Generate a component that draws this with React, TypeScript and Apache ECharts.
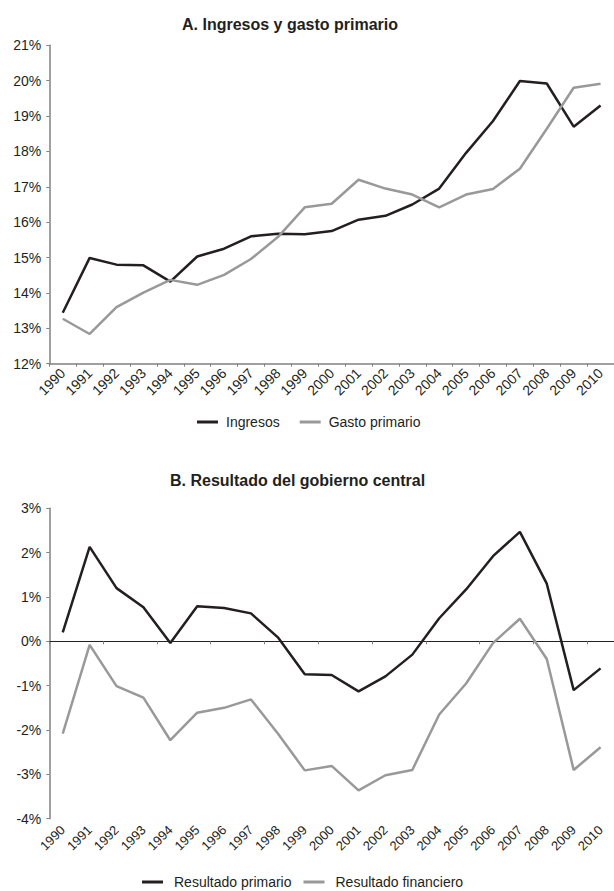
import React, { useEffect, useRef } from "react";
import * as echarts from "echarts";

const years = ["1990","1991","1992","1993","1994","1995","1996","1997","1998","1999","2000","2001","2002","2003","2004","2005","2006","2007","2008","2009","2010"];

const ingresos = [13.44, 14.99, 14.8, 14.78, 14.32, 15.03, 15.25, 15.6, 15.67, 15.66, 15.75, 16.07, 16.18, 16.5, 16.95, 17.96, 18.86, 19.99, 19.92, 18.7, 19.3];
const gastoPrimario = [13.27, 12.84, 13.6, 14.01, 14.37, 14.23, 14.51, 14.96, 15.58, 16.42, 16.52, 17.2, 16.95, 16.78, 16.42, 16.78, 16.94, 17.51, 18.64, 19.8, 19.91];

const resultadoPrimario = [0.2, 2.13, 1.2, 0.77, -0.04, 0.79, 0.75, 0.63, 0.09, -0.74, -0.76, -1.13, -0.79, -0.3, 0.52, 1.17, 1.92, 2.47, 1.3, -1.1, -0.61];
const resultadoFinanciero = [-2.08, -0.08, -1.01, -1.27, -2.23, -1.61, -1.5, -1.31, -2.08, -2.91, -2.81, -3.36, -3.02, -2.9, -1.65, -0.95, -0.04, 0.51, -0.4, -2.9, -2.39];

const titleA = "A. Ingresos y gasto primario";
const titleB = "B. Resultado del gobierno central";

const BLACK = "#231f20";
const GRAY = "#999999";
const AXIS = "#808080";
const TEXT = "#231f20";
const FONT = "Arial";

export default function App() {
  const ref = useRef<HTMLDivElement>(null);
  useEffect(() => {
    if (!ref.current) return;
    const chart = echarts.init(ref.current, undefined, { renderer: "svg" });
    const yAxisCommon = (min: number, max: number, gridIndex: number) => ({
      type: "value",
      gridIndex,
      min,
      max,
      interval: 1,
      splitLine: { show: false },
      axisLine: { show: true, lineStyle: { color: AXIS, width: 1.5 } },
      axisTick: { show: true, length: 3, lineStyle: { color: AXIS } },
      axisLabel: { formatter: "{value}%", fontSize: 14, color: TEXT, fontFamily: FONT, margin: 8 },
    });
    chart.setOption({
      animation: false,
      textStyle: { fontFamily: FONT },
      title: [
        { text: titleA, left: 177, top: 11, textStyle: { fontSize: 16, fontWeight: "bold", color: TEXT, fontFamily: FONT } },
        { text: titleB, left: 165, top: 467, textStyle: { fontSize: 16, fontWeight: "bold", color: TEXT, fontFamily: FONT } },
      ],
      legend: [
        {
          data: ["Ingresos", "Gasto primario"],
          left: 192,
          top: 410,
          icon: "rect",
          itemWidth: 21,
          itemHeight: 3,
          itemGap: 20,
          textStyle: { fontSize: 14, color: TEXT, fontFamily: FONT, padding: [0, 0, 0, 3] },
        },
        {
          data: ["Resultado primario", "Resultado financiero"],
          left: 137,
          top: 870,
          icon: "rect",
          itemWidth: 21,
          itemHeight: 3,
          itemGap: 12,
          textStyle: { fontSize: 14, color: TEXT, fontFamily: FONT, padding: [0, 0, 0, 6] },
        },
      ],
      grid: [
        { left: 49.3, top: 45.3, width: 566.2, height: 318.4, containLabel: false },
        { left: 49.3, top: 508.3, width: 566.2, height: 310.4, containLabel: false },
      ],
      xAxis: [
        {
          type: "category",
          gridIndex: 0,
          data: years,
          boundaryGap: true,
          axisLine: { show: true, lineStyle: { color: AXIS, width: 1.5 } },
          axisTick: { show: true, length: 3, lineStyle: { color: AXIS } },
          axisLabel: { rotate: 45, fontSize: 14, color: TEXT, fontFamily: FONT, margin: 7, interval: 0 },
        },
        {
          type: "category",
          gridIndex: 1,
          data: years,
          position: "bottom",
          boundaryGap: true,
          axisLine: { show: false, onZero: false },
          axisTick: { show: false },
          axisLabel: { rotate: 45, fontSize: 13, color: TEXT, fontFamily: FONT, margin: 9, interval: 0 },
        },
        {
          type: "category",
          gridIndex: 1,
          data: years,
          position: "top",
          boundaryGap: true,
          axisLine: { show: true, onZero: true, lineStyle: { color: "#222222", width: 1 } },
          axisTick: { show: true, inside: true, length: 3, lineStyle: { color: AXIS } },
          axisLabel: { show: false },
        },
      ],
      yAxis: [yAxisCommon(12, 21, 0), yAxisCommon(-4, 3, 1)],
      series: [
        { name: "Ingresos", type: "line", xAxisIndex: 0, yAxisIndex: 0, data: ingresos, symbol: "none", lineStyle: { color: BLACK, width: 2.5 }, itemStyle: { color: BLACK } },
        { name: "Gasto primario", type: "line", xAxisIndex: 0, yAxisIndex: 0, data: gastoPrimario, symbol: "none", lineStyle: { color: GRAY, width: 2.5 }, itemStyle: { color: GRAY } },
        { name: "Resultado primario", type: "line", xAxisIndex: 1, yAxisIndex: 1, data: resultadoPrimario, symbol: "none", lineStyle: { color: BLACK, width: 2.5 }, itemStyle: { color: BLACK } },
        { name: "Resultado financiero", type: "line", xAxisIndex: 1, yAxisIndex: 1, data: resultadoFinanciero, symbol: "none", lineStyle: { color: GRAY, width: 2.5 }, itemStyle: { color: GRAY } },
      ],
    });
    return () => chart.dispose();
  }, []);
  return (
    <div
      ref={ref}
      style={{ position: "fixed", left: 0, top: 0, width: 614, height: 891, background: "#ffffff" }}
    />
  );
}
